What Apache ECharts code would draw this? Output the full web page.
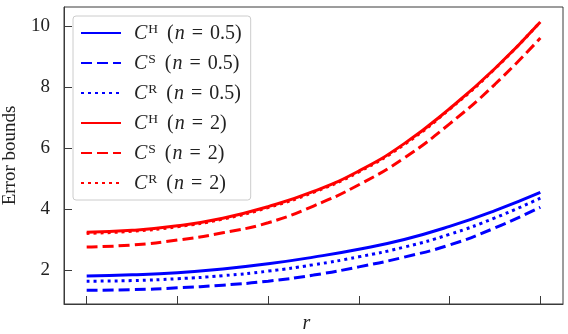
<!DOCTYPE html>
<html>
<head>
<meta charset="utf-8">
<script src="https://cdn.jsdelivr.net/npm/echarts@6/dist/echarts.min.js"></script>
<style>
  html, body { margin: 0; padding: 0; background: #fff; }
  #chart { width: 568px; height: 334px; }
</style>
</head>
<body>
<div id="chart"></div>
<script>
// sample positions along r
const rValues = [0, 0.5, 1, 1.5, 2, 2.5, 3, 3.5, 4, 4.5, 5];
const rTicks = [0, 1, 2, 3, 4, 5];
const yTicks = [2, 4, 6, 8, 10];

// error bounds, n = 0.5
const cH_n05 = [1.80, 1.84, 1.91, 2.03, 2.20, 2.42, 2.68, 3.00, 3.43, 3.95, 4.55];
const cS_n05 = [1.33, 1.35, 1.41, 1.50, 1.63, 1.83, 2.10, 2.42, 2.82, 3.38, 4.06];
const cR_n05 = [1.63, 1.65, 1.71, 1.81, 1.96, 2.17, 2.43, 2.75, 3.17, 3.71, 4.36];

// error bounds, n = 2
const cH_n2 = [3.24, 3.30, 3.45, 3.70, 4.08, 4.58, 5.25, 6.15, 7.30, 8.62, 10.15];
const cS_n2 = [2.75, 2.82, 2.98, 3.22, 3.55, 4.10, 4.80, 5.68, 6.80, 8.10, 9.62];
const cR_n2 = [3.20, 3.27, 3.42, 3.67, 4.05, 4.55, 5.22, 6.12, 7.28, 8.61, 10.15];

const BLUE = '#0000ff';
const RED = '#ff0000';
const INK = '#222222';
const FRAME = '#3a3a3a';
const SERIF = '"Liberation Serif", "DejaVu Serif", serif';

const curves = [
  { key: 'H05', sup: 'H', n: '0.5', data: cH_n05, color: BLUE, dash: 'solid' },
  { key: 'S05', sup: 'S', n: '0.5', data: cS_n05, color: BLUE, dash: [11, 5] },
  { key: 'R05', sup: 'R', n: '0.5', data: cR_n05, color: BLUE, dash: [3, 4] },
  { key: 'H2',  sup: 'H', n: '2',   data: cH_n2,  color: RED,  dash: 'solid' },
  { key: 'S2',  sup: 'S', n: '2',   data: cS_n2,  color: RED,  dash: [11, 5] },
  { key: 'R2',  sup: 'R', n: '2',   data: cR_n2,  color: RED,  dash: [3, 4] }
];

// legend label: italic C with upright superscript, then (n = value)
const labelOf = {};
curves.forEach(c => {
  labelOf[c.key] = '{c|C}{s|' + c.sup + '}{p|(}{i|n}{e|=}{t|' + c.n + ')}';
});

const base = { fontFamily: SERIF, fontSize: 20, color: INK, lineHeight: 22, verticalAlign: 'bottom' };

const chart = echarts.init(document.getElementById('chart'), null, { renderer: 'canvas' });

chart.setOption({
  animation: false,
  backgroundColor: '#ffffff',
  grid: {
    left: 64, right: 5, top: 7, bottom: 30,
    outerBoundsMode: 'none',
    containLabel: false,
    show: true, borderColor: FRAME, borderWidth: 1, backgroundColor: 'transparent'
  },
  xAxis: {
    type: 'value',
    min: -0.25, max: 5.25,
    name: 'r',
    nameLocation: 'middle',
    nameGap: 10,
    nameTextStyle: { fontFamily: SERIF, fontStyle: 'italic', fontSize: 20, color: INK, padding: [0, 14, 0, 0] },
    axisLine: { show: true, onZero: false, lineStyle: { color: FRAME, width: 1 } },
    splitLine: { show: false },
    axisTick: { show: true, inside: true, length: 8, customValues: rTicks,
      lineStyle: { color: FRAME, width: 1 } },
    axisLabel: { show: false, customValues: rTicks }
  },
  yAxis: {
    type: 'value',
    min: 0.88, max: 10.64,
    name: 'Error bounds',
    nameLocation: 'middle',
    nameGap: 44,
    nameRotate: 90,
    nameTextStyle: { fontFamily: SERIF, fontSize: 19, color: INK },
    axisLine: { show: true, onZero: false, lineStyle: { color: FRAME, width: 1 } },
    splitLine: { show: false },
    axisTick: { show: true, inside: true, length: 8, customValues: yTicks,
      lineStyle: { color: FRAME, width: 1 } },
    axisLabel: { show: true, customValues: yTicks, margin: 14,
      fontFamily: SERIF, fontSize: 19, color: INK }
  },
  legend: {
    left: 73, top: 16,
    orient: 'vertical',
    itemWidth: 40, itemHeight: 14, itemGap: 8,
    padding: [6, 9, 6, 7],
    borderColor: '#cccccc', borderWidth: 1, borderRadius: 3,
    backgroundColor: 'rgba(255,255,255,0.8)',
    itemStyle: { opacity: 0 },
    data: curves.map(c => c.key),
    formatter: name => labelOf[name],
    textStyle: {
      padding: [0, 0, 0, 8],
      fontFamily: SERIF, fontSize: 20, color: INK,
      rich: {
        c: Object.assign({}, base, { fontStyle: 'italic' }),
        s: { fontFamily: SERIF, fontSize: 13.5, color: INK, lineHeight: 14, verticalAlign: 'top', padding: [0, 2, 0, 1] },
        p: Object.assign({}, base, { padding: [0, 0, 0, 7] }),
        i: Object.assign({}, base, { fontStyle: 'italic', padding: [0, 0, 0, 1] }),
        e: Object.assign({}, base, { padding: [0, 6, 0, 7] }),
        t: Object.assign({}, base, { padding: [0, 0, 0, 1] })
      }
    }
  },
  series: curves.map(c => ({
    name: c.key,
    type: 'line',
    data: rValues.map((r, i) => [r, c.data[i]]),
    smooth: 0.5,
    symbol: 'none',
    color: c.color,
    lineStyle: { color: c.color, width: 3, type: c.dash, cap: 'butt' }
  }))
});
</script>
</body>
</html>
